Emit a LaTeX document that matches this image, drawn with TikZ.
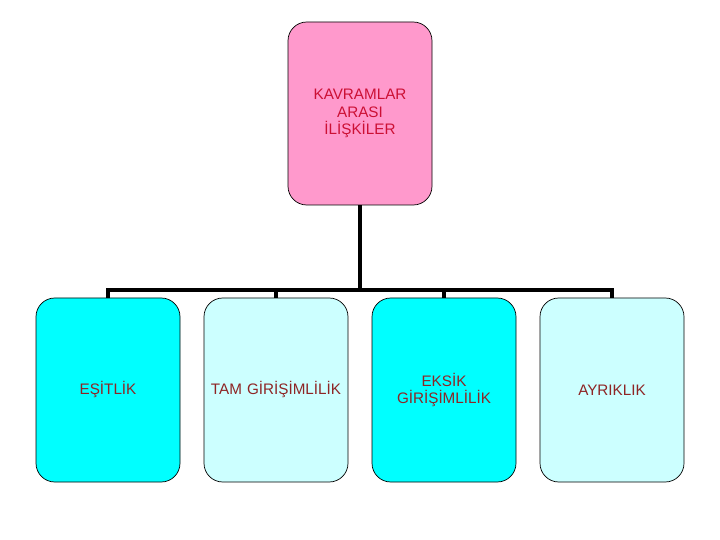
\documentclass[tikz,border=0pt]{standalone}
\usepackage{fontspec}
\setmainfont{Liberation Sans}
\usepackage{tikz}
\usetikzlibrary{calc}
\definecolor{pinkbox}{HTML}{FF99CC}
\definecolor{cyanbox}{HTML}{00FFFF}
\definecolor{lightcyanbox}{HTML}{CCFFFF}
\definecolor{toptext}{HTML}{CC1035}
\definecolor{boxtext}{HTML}{8E2525}

\begin{document}
\begin{tikzpicture}
		[
		x=0.03cm, y=-0.03cm,
		font=\fontsize{13}{15}\selectfont
		]
		
		% Box styles
		\tikzstyle{concept}=[draw=black, line width=0.6pt, rounded corners=16, minimum width=144*0.03cm, minimum height=184*0.03cm, text width=140*0.03cm, align=center, inner sep=0pt];
		\tikzstyle{conn}=[draw=black, line width=2.9pt];
		
		\useasboundingbox (0,0) rectangle (720,540);
		
		% The root
		\node(root)[concept, fill=pinkbox, text=toptext, minimum height=183*0.03cm] at (360,113.5){KAVRAMLAR\\ARASI\\İLİŞKİLER};
		
		% The four relations
		\node(r1)[concept, fill=cyanbox, text=boxtext] at (108,390){EŞİTLİK};
		\node(r2)[concept, fill=lightcyanbox, text=boxtext] at (276,390){TAM GİRİŞİMLİLİK};
		\node(r3)[concept, fill=cyanbox, text=boxtext] at (444,390){EKSİK\\GİRİŞİMLİLİK};
		\node(r4)[concept, fill=lightcyanbox, text=boxtext] at (612,390){AYRIKLIK};
		
		% Connectors
		\coordinate(bus) at (360,290);
		\draw[conn](root.south)--(bus);
		\draw[conn, line cap=rect](r1.north|-bus)--(r4.north|-bus);
		\foreach\x in {1,2,3,4}\draw[conn](r\x.north|-bus)--(r\x.north);
		
\end{tikzpicture}
\end{document}
